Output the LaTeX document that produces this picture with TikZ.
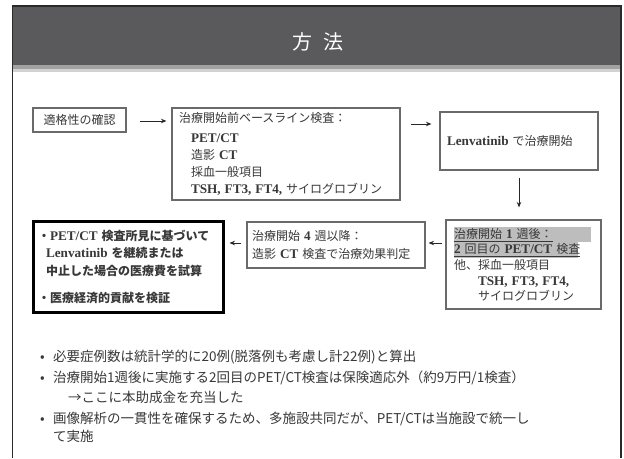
\documentclass[tikz,border=0pt]{standalone}
\usepackage{fontspec}
\setmainfont{Noto Sans CJK JP}
\newfontfamily\serlat[Scale=1.1]{Liberation Serif}
\usetikzlibrary{arrows.meta,calc}
\newcommand{\lt}[1]{{\serlat\bfseries #1}}
\definecolor{hdr}{HTML}{5A5A5C}
\definecolor{stripA}{HTML}{A2A2A2}
\definecolor{stripB}{HTML}{D2D2D2}
\definecolor{framec}{HTML}{2A2A2A}
\definecolor{boxc}{HTML}{6A6A6A}
\definecolor{txt}{HTML}{383838}
\definecolor{hl}{HTML}{BDBDBD}
\tikzset{
  stepbox/.style={draw=boxc, line width=1.1pt, inner ysep=0pt, text=txt,
    font=\fontsize{12}{17.3}\selectfont, align=left},
  thickbox/.style={draw=black, line width=3pt, inner ysep=0pt, text=txt,
    font=\fontsize{12}{17.5}\selectfont\bfseries, align=left},
  arr/.style={draw=black!85, line width=1pt, -{Stealth[length=5.5pt,width=4.5pt]}},
  note/.style={anchor=base west, inner sep=0pt, text=txt, font=\fontsize{13.5}{15}\selectfont},
}
\begin{document}
\begin{tikzpicture}[x=1pt,y=-1pt]
\useasboundingbox (0,0) rectangle (624,458);
\fill[white] (0,0) rectangle (624,458);
% header
\fill[hdr] (12.5,6) rectangle (621,65);
\fill[stripA] (12.5,65) rectangle (621,69);
\fill[stripB] (12.5,69) rectangle (621,72);
\draw[framec, line width=1.5pt] (12.5,458) -- (12.5,6) -- (621,6) -- (621,458);
\node[text=white, font=\fontsize{20}{24}\selectfont, inner sep=0pt] (title) at (317.5,42) {方\hspace{0.55em}法};

% boxes
\node[stepbox, align=center, minimum width=93pt, minimum height=24pt, text width=85pt, inner xsep=4pt] (b1) at (79.5,120) {適格性の確認};
\node[stepbox, minimum width=228pt, minimum height=92pt, text width=214pt, inner xsep=7pt] (b2) at (286,154)
  {治療開始前ベースライン検査：\\[2.5pt]
   \hspace*{12pt}\lt{PET/CT}\\
   \hspace*{12pt}造影 \lt{CT}\\
   \hspace*{12pt}採血一般項目\\
   \hspace*{12pt}\lt{TSH,\ FT3,\ FT4,}\ サイログロブリン};
\node[stepbox, minimum width=158pt, minimum height=58pt, text width=144pt, inner xsep=7pt] (b3) at (519,141)
  {\lt{Lenvatinib} で治療開始};
\node[stepbox, font=\fontsize{12}{15.6}\selectfont, minimum width=155pt, minimum height=89pt, text width=139pt, inner xsep=8pt] (b4) at (523.5,264.5)
  {\leavevmode\rlap{\textcolor{hl}{\rule[-4pt]{137pt}{15pt}}}\underline{治療開始 \lt{1} 週後：}\\
   \leavevmode\rlap{\textcolor{hl}{\rule[-4.5pt]{124pt}{16pt}}}\underline{\lt{2} 回目の \lt{PET/CT} 検査}\\
   他、採血一般項目\\
   \hspace*{24pt}\lt{TSH, FT3, FT4,}\\
   \hspace*{24pt}サイログロブリン};
\node[stepbox, minimum width=178pt, minimum height=46pt, text width=168pt, inner xsep=5pt] (b5) at (336,245)
  {治療開始 \lt{4} 週以降：\\
   造影 \lt{CT} 検査で治療効果判定};
\node[thickbox, minimum width=190pt, minimum height=91pt, text width=180pt, inner xsep=5pt] (b6) at (128,266.5)
  {・\lt{PET/CT} 検査所見に基づいて\\
   \hspace*{8pt}\lt{Lenvatinib} を継続または\\
   \hspace*{8pt}中止した場合の医療費を試算\\[9.5pt]
   ・医療経済的貢献を検証};

% connectors
\draw[arr] ($(b1.east)+(13,1)$) -- ($(b1.east -| b2.west)+(-5,1)$);
\draw[arr] ($(b2.east)+(10,-30)$) -- ($(b2.east -| b3.west)+(-8,-30)$);
\draw[arr] ($(b3.south)+(0,7)$) -- ($(b3.south |- b4.north)+(0,-12)$);
\draw[arr] ($(b5.east -| b4.west)+(-3,-2)$) -- ($(b5.east)+(3,-2)$);
\draw[arr] ($(b5.west)+(-5,-2)$) -- ($(b5.west -| b6.east)+(5,-2)$);

% notes
\node[note] (n1) at (40,361.5) {\makebox[13pt][l]{•}必要症例数は統計学的に20例(脱落例も考慮し計22例)と算出};
\node[note] (n2) at (40,382.5) {\makebox[13pt][l]{•}治療開始1週後に実施する2回目のPET/CT検査は保険適応外（約9万円/1検査）};
\node[note] (n3) at (68,402.5) {→ここに本助成金を充当した};
\node[note] (n4) at (40,423.5) {\makebox[13pt][l]{•}画像解析の一貫性を確保するため、多施設共同だが、PET/CTは当施設で統一し};
\node[note] (n5) at (53,441.5) {て実施};
\end{tikzpicture}
\end{document}
